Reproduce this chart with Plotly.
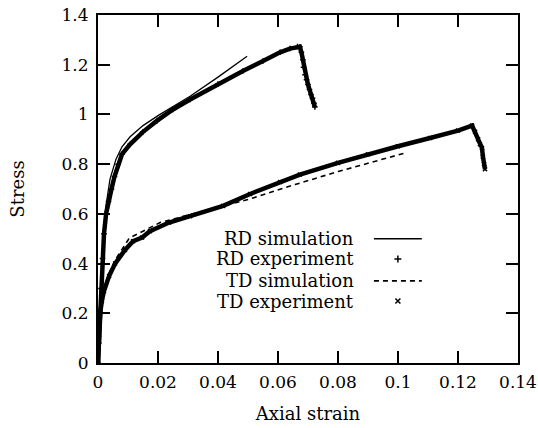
import plotly.graph_objects as go

# RD (rolling direction) experiment
rd_exp_strain = [0, 0.0003, 0.0007, 0.001, 0.0015, 0.002, 0.0027, 0.0035, 0.0045, 0.0055,
                 0.0067, 0.008, 0.0107, 0.015, 0.0197, 0.025, 0.0307, 0.04, 0.0483, 0.055,
                 0.0607, 0.064, 0.0665, 0.0673, 0.0678, 0.0683, 0.0685, 0.069, 0.0695, 0.070,
                 0.0705, 0.071, 0.0715, 0.072, 0.0723]
rd_exp_stress = [0, 0.08, 0.2, 0.3, 0.42, 0.52, 0.6, 0.65, 0.70, 0.75,
                 0.80, 0.84, 0.88, 0.93, 0.975, 1.02, 1.06, 1.122, 1.175, 1.215,
                 1.25, 1.265, 1.273, 1.272, 1.25, 1.22, 1.19, 1.16, 1.14, 1.12,
                 1.10, 1.08, 1.065, 1.045, 1.03]

rd_sim_strain = [0, 0.0007, 0.0015, 0.0025, 0.004, 0.006, 0.008, 0.0107, 0.015, 0.02,
                 0.0307, 0.04, 0.0497]
rd_sim_stress = [0, 0.22, 0.45, 0.62, 0.74, 0.82, 0.87, 0.91, 0.955, 0.995,
                 1.073, 1.15, 1.234]

# TD (transverse direction)
td_exp_strain = [0, 0.0003, 0.0007, 0.0013, 0.002, 0.0037, 0.0057, 0.009, 0.0117, 0.0147,
                 0.0173, 0.0237, 0.0307, 0.0417, 0.0507, 0.0607, 0.0673, 0.08, 0.09, 0.1,
                 0.1107, 0.12, 0.1247, 0.1257, 0.1267, 0.1273, 0.128, 0.1283, 0.1287, 0.129]
td_exp_stress = [0, 0.1, 0.2, 0.25, 0.29, 0.35, 0.40, 0.455, 0.49, 0.505,
                 0.53, 0.565, 0.59, 0.632, 0.68, 0.728, 0.758, 0.805, 0.84, 0.872,
                 0.905, 0.935, 0.955, 0.93, 0.90, 0.88, 0.865, 0.83, 0.80, 0.78]

td_sim_strain = [0, 0.0007, 0.002, 0.004, 0.006, 0.0103, 0.0113, 0.018, 0.0207, 0.03,
                 0.0507, 0.0657, 0.08, 0.103]
td_sim_stress = [0, 0.2, 0.3, 0.37, 0.42, 0.50, 0.508, 0.548, 0.565, 0.595,
                 0.66, 0.718, 0.77, 0.847]

legend_labels = ["RD simulation", "RD experiment", "TD simulation", "TD experiment"]

FONT = "DejaVu Serif"

fig = go.Figure()

fig.add_trace(go.Scatter(x=rd_sim_strain, y=rd_sim_stress, mode="lines",
                         line=dict(color="black", width=1.3)))
fig.add_trace(go.Scatter(x=rd_exp_strain, y=rd_exp_stress, mode="lines+markers",
                         line=dict(color="black", width=4.5),
                         marker=dict(symbol="cross-thin", size=4, line=dict(color="black", width=1.5))))
fig.add_trace(go.Scatter(x=td_sim_strain, y=td_sim_stress, mode="lines",
                         line=dict(color="black", width=1.6, dash="5px,4px")))
fig.add_trace(go.Scatter(x=td_exp_strain, y=td_exp_stress, mode="lines+markers",
                         line=dict(color="black", width=4.5),
                         marker=dict(symbol="x-thin", size=4, line=dict(color="black", width=1.5))))

# gnuplot style key: text on the left, sample on the right
key_y = [0.357, 0.299, 0.236, 0.178]
for label, ky in zip(legend_labels, key_y):
    fig.add_annotation(x=0.614, y=ky, xref="paper", yref="paper", text=label,
                       showarrow=False, xanchor="right", yanchor="middle",
                       font=dict(family=FONT, size=18, color="black"))

fig.add_trace(go.Scatter(x=[0.657, 0.771], y=[key_y[0]] * 2, mode="lines", xaxis="x2", yaxis="y2",
                         line=dict(color="black", width=1.3)))
fig.add_trace(go.Scatter(x=[0.714], y=[key_y[1]], mode="markers", xaxis="x2", yaxis="y2",
                         marker=dict(symbol="cross-thin", size=5, line=dict(color="black", width=1.5))))
fig.add_trace(go.Scatter(x=[0.657, 0.771], y=[key_y[2]] * 2, mode="lines", xaxis="x2", yaxis="y2",
                         line=dict(color="black", width=1.6, dash="5px,4px")))
fig.add_trace(go.Scatter(x=[0.714], y=[key_y[3]], mode="markers", xaxis="x2", yaxis="y2",
                         marker=dict(symbol="x-thin", size=5, line=dict(color="black", width=1.5))))

axis_style = dict(showline=True, linecolor="black", linewidth=2, mirror="ticks",
                  ticks="inside", ticklen=12, tickwidth=1.5, tickcolor="black",
                  showgrid=False, zeroline=False, automargin=False,
                  tickfont=dict(family=FONT, size=17, color="black"))

fig.update_layout(
    width=538, height=428,
    margin=dict(l=98, r=20, t=15, b=65),
    plot_bgcolor="white", paper_bgcolor="white",
    showlegend=False,
    xaxis=dict(range=[0, 0.14], dtick=0.02, ticklabelstandoff=3,
               title=dict(text="Axial strain", standoff=16,
                          font=dict(family=FONT, size=18, color="black")), **axis_style),
    yaxis=dict(range=[0, 1.4], dtick=0.2, ticklabelstandoff=4,
               title=dict(text="Stress", standoff=32,
                          font=dict(family=FONT, size=18, color="black")), **axis_style),
    xaxis2=dict(overlaying="x", range=[0, 1], visible=False),
    yaxis2=dict(overlaying="y", range=[0, 1], visible=False),
)

# drop the default 8px body margin so the figure fills the window
fig.write_html("out.html", config={"displayModeBar": False},
               post_script="document.body.style.margin = '0';")
